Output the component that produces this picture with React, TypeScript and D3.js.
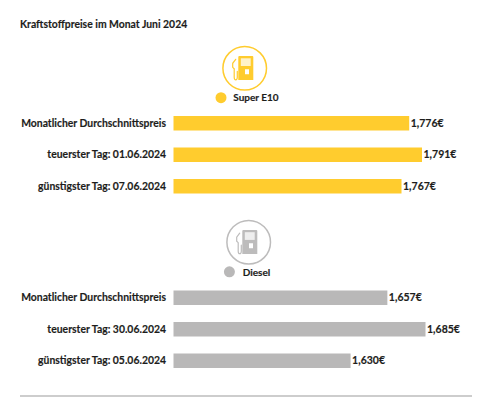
import React from "react";
import * as d3 from "d3";

const title = "Kraftstoffpreise im Monat Juni 2024";
const e10Labels = ["Monatlicher Durchschnittspreis", "teuerster Tag: 01.06.2024", "günstigster Tag: 07.06.2024"];
const e10Values = [1.776, 1.791, 1.767];
const dieselLabels = ["Monatlicher Durchschnittspreis", "teuerster Tag: 30.06.2024", "günstigster Tag: 05.06.2024"];
const dieselValues = [1.657, 1.685, 1.63];

const YELLOW = "#FFCC2E";
const GREY = "#B9B8B8";
const ICON_GREY = "#BDBCBC";
const FONT = "Lato, sans-serif";
const INK = "#1d1d1b";
const X0 = 173.5;

const xE10 = d3.scaleLinear().domain([1.5, 1.791]).range([X0, 422]);
const xDiesel = d3.scaleLinear().domain([1.5, 1.685]).range([X0, 425.5]);
const fmt = (v: number) => v.toFixed(3).replace(".", ",") + "€";

function Pump({ cx, cy, color }: { cx: number; cy: number; color: string }) {
  return (
    <g transform={`translate(${cx},${cy})`}>
      <circle r={21.8} fill="#fff" stroke={color} strokeWidth={1.5} />
      <path
        fillRule="evenodd"
        fill={color}
        d="M-5.4,-12.3 H7.6 Q8.6,-12.3 8.6,-11.3 V11.7 H-6.4 V-11.3 Q-6.4,-12.3 -5.4,-12.3 Z M0.3,1 V6 H4.3 V1 Z"
      />
      <rect x={-3.9} y={-10} width={9.9} height={7.7} fill="#fff" opacity={0.75} />
      <path
        fill="none"
        stroke={color}
        strokeWidth={1.2}
        strokeLinecap="round"
        d="M-9,-9 L-12,-5 V-1 L-10.5,0.5 V9 Q-10.5,11.5 -9,11.5 Q-7.4,11.5 -7.4,9 V3"
      />
    </g>
  );
}

function Group({
  labels,
  values,
  x,
  color,
  ys,
}: {
  labels: string[];
  values: number[];
  x: d3.ScaleLinear<number, number>;
  color: string;
  ys: number[];
}) {
  return (
    <g fontFamily={FONT} fontWeight={700} fill={INK} stroke={INK} strokeWidth={0.15}>
      {values.map((v, i) => (
        <g key={i}>
          <text x={166} y={ys[i] + 7.3} dy="0.35em" textAnchor="end" fontSize={10.4}>
            {labels[i]}
          </text>
          <rect x={X0} y={ys[i]} width={x(v) - X0} height={14.5} fill={color} stroke="none" />
          <text x={x(v) + 1.5} y={ys[i] + 7} dy="0.35em" fontSize={10.5}>
            {fmt(v)}
          </text>
        </g>
      ))}
    </g>
  );
}

export default function App() {
  const legendStyle = { fontFamily: FONT, fontWeight: 700, fontSize: 10, fill: INK, stroke: INK, strokeWidth: 0.15 };
  return (
    <svg
      width={500}
      height={406}
      viewBox="0 0 500 406"
      style={{ position: "absolute", left: 0, top: 0, background: "#fff" }}
    >
      <text x={20} y={28} fontFamily={FONT} fontWeight={700} fontSize={10.4} fill={INK} stroke={INK} strokeWidth={0.15}>
        {title}
      </text>

      <Pump cx={244.7} cy={68.3} color={YELLOW} />
      <circle cx={221} cy={97.7} r={5.5} fill={YELLOW} />
      <text x={233.3} y={101.4} {...legendStyle}>
        Super E10
      </text>
      <Group labels={e10Labels} values={e10Values} x={xE10} color={YELLOW} ys={[116, 147.5, 179]} />

      <Pump cx={248.7} cy={242.2} color={ICON_GREY} />
      <circle cx={229.4} cy={271.8} r={5.5} fill={GREY} />
      <text x={242.7} y={275.5} {...legendStyle}>
        Diesel
      </text>
      <Group labels={dieselLabels} values={dieselValues} x={xDiesel} color={GREY} ys={[290.5, 322, 353.5]} />

      <line x1={20} x2={472} y1={396} y2={396} stroke="#BDBCBC" strokeWidth={1.5} />
    </svg>
  );
}
